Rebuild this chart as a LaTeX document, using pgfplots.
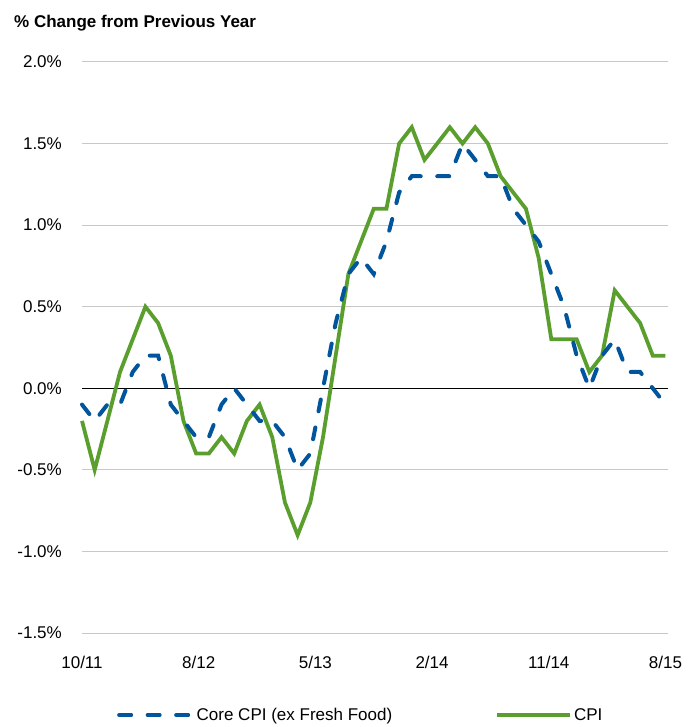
\documentclass[border=0pt]{standalone}
\usepackage{pgfplots}
\usepackage{pgfplotstable}
\usepackage{fontspec}
\setmainfont{Liberation Sans}
\pgfplotsset{compat=1.18}
\definecolor{cpigreen}{HTML}{5A9F2E}
\definecolor{coreblue}{HTML}{00559C}
\definecolor{gridgray}{HTML}{C8C8C8}

% month index (0 = 10/11), CPI, core CPI ex fresh food
\pgfplotstableread{
m cpi core
0 -0.2 -0.1
1 -0.5 -0.2
2 -0.2 -0.1
3 0.1 -0.1
4 0.3 0.1
5 0.5 0.2
6 0.4 0.2
7 0.2 -0.1
8 -0.2 -0.2
9 -0.4 -0.3
10 -0.4 -0.3
11 -0.3 -0.1
12 -0.4 0.0
13 -0.2 -0.1
14 -0.1 -0.2
15 -0.3 -0.2
16 -0.7 -0.3
17 -0.9 -0.5
18 -0.7 -0.4
19 -0.3 0.0
20 0.2 0.4
21 0.7 0.7
22 0.9 0.8
23 1.1 0.7
24 1.1 0.9
25 1.5 1.2
26 1.6 1.3
27 1.4 1.3
28 1.5 1.3
29 1.6 1.3
30 1.5 1.5
31 1.6 1.4
32 1.5 1.3
33 1.3 1.3
34 1.2 1.1
35 1.1 1.0
36 0.8 0.9
37 0.3 0.7
38 0.3 0.5
39 0.3 0.2
40 0.1 0.0
41 0.2 0.2
42 0.6 0.3
43 0.5 0.1
44 0.4 0.1
45 0.2 0.0
46 0.2 -0.1
}\datatable

\begin{document}
\begin{tikzpicture}
\useasboundingbox (-82pt,-94pt) rectangle (615pt,633pt);
\begin{axis}[
    at={(0,0)}, anchor=south west,
    scale only axis,
    width=586pt, height=571pt,
    xmin=0, xmax=46.2,
    ymin=-1.5, ymax=2.0,
    clip=false,
    axis line style={draw=none},
    major tick length=0pt,
    xtick={0,9.2,18.4,27.6,36.8,46},
    xticklabels={10/11,8/12,5/13,2/14,11/14,8/15},
    ytick={-1.5,-1,-0.5,0,0.5,1,1.5,2},
    yticklabel={\pgfmathprintnumber[fixed,fixed zerofill,precision=1]{\tick}\%},
    /pgf/number format/assume math mode=true,
    ymajorgrids,
    grid style={gridgray, line width=1pt},
    extra y ticks={0},
    extra y tick labels={},
    extra y tick style={grid style={black, line width=1pt}},
    ticklabel style={font=\fontsize{17}{20}\selectfont},
    yticklabel style={anchor=east, inner sep=0pt, xshift=-20pt},
    xticklabel style={anchor=base, inner sep=0pt, yshift=-35pt},
    legend columns=2,
    legend style={at={(rel axis cs:0.0597,-0.1436)}, anchor=west,
        draw=none, fill=none, inner sep=0pt,
        font=\fontsize{17}{20}\selectfont,
        nodes={inner sep=2.5pt},
        /tikz/every even column/.append style={column sep=100pt}},
    legend image code/.code={\draw[#1] (0pt,0pt) -- (73pt,0pt);},
]
\addlegendimage{coreblue, line width=4pt, line cap=round, dash pattern=on 12pt off 16.5pt}
\addlegendentry{Core CPI (ex Fresh Food)}
\addlegendimage{cpigreen, line width=3.8pt}
\addlegendentry{CPI}
\addplot[forget plot, cpigreen, line width=3.8pt, line join=miter] table[x=m, y=cpi] {\datatable};
\addplot[forget plot, coreblue, line width=4pt, line cap=round, dash pattern=on 12pt off 16.5pt] table[x=m, y=core] {\datatable};
\end{axis}
\node[anchor=base west, inner sep=0pt, font=\fontsize{17}{20}\selectfont\bfseries] at (-68pt,605pt) {\% Change from Previous Year};
\end{tikzpicture}
\end{document}
